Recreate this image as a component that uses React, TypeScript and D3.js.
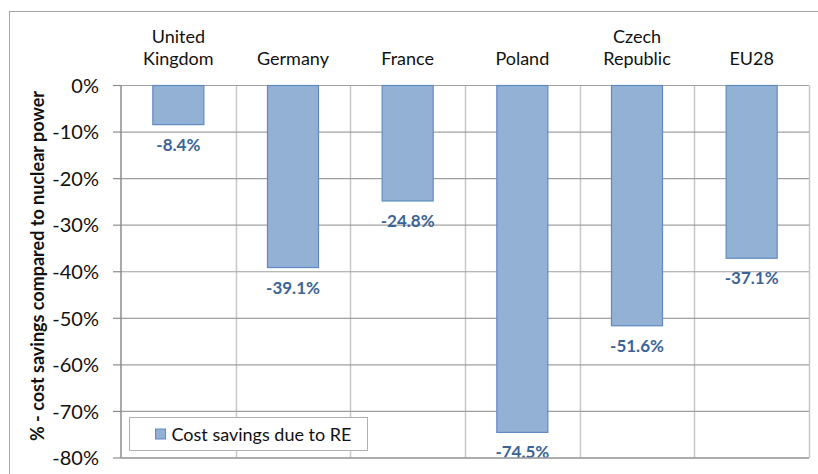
import { useEffect, useRef } from "react";
import * as d3 from "d3";

const countries = ["United Kingdom", "Germany", "France", "Poland", "Czech Republic", "EU28"];
const countryLines = [["United", "Kingdom"], ["Germany"], ["France"], ["Poland"], ["Czech", "Republic"], ["EU28"]];
const savings = [-8.4, -39.1, -24.8, -74.5, -51.6, -37.1];
const yTicks = [0, -10, -20, -30, -40, -50, -60, -70, -80];
const seriesName = "Cost savings due to RE";
const yTitle = "% - cost savings compared to nuclear power";

const App = () => {
  const svgRef = useRef<SVGSVGElement>(null);

  useEffect(() => {
    if (!svgRef.current) return;
    const svg = d3.select(svgRef.current);
    svg.selectAll("*").remove();

    const width = 818;
    const height = 474;
    const margin = { top: 85.5, right: 9, bottom: 16, left: 121 };
    const font = "Lato, 'Open Sans', sans-serif";

    const x = d3
      .scaleBand()
      .domain(countries)
      .range([margin.left, width - margin.right])
      .padding(0);

    const y = d3
      .scaleLinear()
      .domain([0, -80])
      .range([margin.top, height - margin.bottom]);

    svg.attr("viewBox", `0 0 ${width} ${height}`);

    // outer chart frame
    svg
      .append("rect")
      .attr("x", 9.5)
      .attr("y", 11.5)
      .attr("width", 830)
      .attr("height", 500)
      .attr("fill", "#fff")
      .attr("stroke", "#a6a6a6");

    // vertical gridlines (category boundaries)
    const bounds = countries.map((c) => x(c)!).concat([width - margin.right]);
    svg
      .selectAll("line.vgrid")
      .data(bounds.slice(1))
      .join("line")
      .attr("class", "vgrid")
      .attr("x1", (d) => Math.round(d) + 0.5)
      .attr("x2", (d) => Math.round(d) + 0.5)
      .attr("y1", margin.top)
      .attr("y2", y(-80))
      .attr("stroke", "#c8c8c8")
      .attr("stroke-width", 1.5);

    // horizontal gridlines
    svg
      .selectAll("line.hgrid")
      .data(yTicks)
      .join("line")
      .attr("class", "hgrid")
      .attr("x1", margin.left)
      .attr("x2", width - margin.right)
      .attr("y1", (d) => y(d))
      .attr("y2", (d) => y(d))
      .attr("stroke", "#a0a0a0")
      .attr("stroke-width", 1.2);

    // bars
    const bw = x.bandwidth() * 0.445;
    svg
      .selectAll("rect.bar")
      .data(savings)
      .join("rect")
      .attr("class", "bar")
      .attr("x", (_, i) => x(countries[i])! + (x.bandwidth() - bw) / 2)
      .attr("y", y(0))
      .attr("width", bw)
      .attr("height", (d) => y(d) - y(0))
      .attr("fill", "#93b0d5")
      .attr("stroke", "#5f8ac0")
      .attr("stroke-width", 1.2);

    // value labels
    svg
      .selectAll("text.value")
      .data(savings)
      .join("text")
      .attr("class", "value")
      .attr("x", (_, i) => x(countries[i])! + x.bandwidth() / 2)
      .attr("y", (d) => y(d) + 26)
      .attr("text-anchor", "middle")
      .attr("fill", "#3b6496")
      .attr("font-family", font)
      .attr("font-size", "17px")
      .attr("font-weight", "700")
      .text((d) => `${d.toFixed(1)}%`);

    // left axis line + bottom line + ticks
    svg
      .append("line")
      .attr("x1", margin.left)
      .attr("x2", margin.left)
      .attr("y1", margin.top)
      .attr("y2", y(-80))
      .attr("stroke", "#8c8c8c")
      .attr("stroke-width", 1.5);
    svg
      .append("line")
      .attr("x1", margin.left)
      .attr("x2", width - margin.right)
      .attr("y1", y(-80))
      .attr("y2", y(-80))
      .attr("stroke", "#a0a0a0")
      .attr("stroke-width", 1.5);
    svg
      .selectAll("line.tick")
      .data(yTicks)
      .join("line")
      .attr("class", "tick")
      .attr("x1", margin.left - 8)
      .attr("x2", margin.left)
      .attr("y1", (d) => y(d))
      .attr("y2", (d) => y(d))
      .attr("stroke", "#8c8c8c")
      .attr("stroke-width", 1.2);

    // y tick labels
    svg
      .selectAll("text.ytick")
      .data(yTicks)
      .join("text")
      .attr("class", "ytick")
      .attr("x", 99)
      .attr("y", (d) => y(d))
      .attr("dy", "0.36em")
      .attr("text-anchor", "end")
      .attr("fill", "#111")
      .attr("font-family", font)
      .attr("font-size", "20px")
      .text((d) => `${d}%`);

    // category labels on top
    const cat = svg
      .selectAll("text.cat")
      .data(countryLines)
      .join("text")
      .attr("class", "cat")
      .attr("text-anchor", "middle")
      .attr("fill", "#111")
      .attr("font-family", font)
      .attr("font-size", "18px");
    cat
      .selectAll("tspan")
      .data((d, i) => d.map((line, j) => ({ line, j, n: d.length, i })))
      .join("tspan")
      .attr("x", (d) => x(countries[d.i])! + x.bandwidth() / 2)
      .attr("y", (d) => 65 - (d.n - 1 - d.j) * 22.5)
      .text((d) => d.line);

    // y axis title
    svg
      .append("text")
      .attr("transform", `translate(44, 266) rotate(-90)`)
      .attr("text-anchor", "middle")
      .attr("fill", "#111")
      .attr("font-family", font)
      .attr("font-size", "18px")
      .attr("font-weight", "700")
      .text(yTitle);

    // legend
    const lg = svg.append("g").attr("transform", "translate(129.5, 417.5)");
    lg.append("rect")
      .attr("width", 238)
      .attr("height", 33)
      .attr("fill", "#fff")
      .attr("stroke", "#b0b0b0");
    lg.append("rect")
      .attr("x", 26)
      .attr("y", 11.5)
      .attr("width", 10)
      .attr("height", 10)
      .attr("fill", "#93b0d5")
      .attr("stroke", "#5f8ac0");
    lg.append("text")
      .attr("x", 42)
      .attr("y", 17)
      .attr("dy", "0.35em")
      .attr("fill", "#111")
      .attr("font-family", font)
      .attr("font-size", "18px")
      .text(seriesName);
  }, []);

  return (
    <svg
      ref={svgRef}
      width={818}
      height={474}
      style={{ position: "absolute", left: 0, top: 0, background: "#fff" }}
    />
  );
};

export default App;
